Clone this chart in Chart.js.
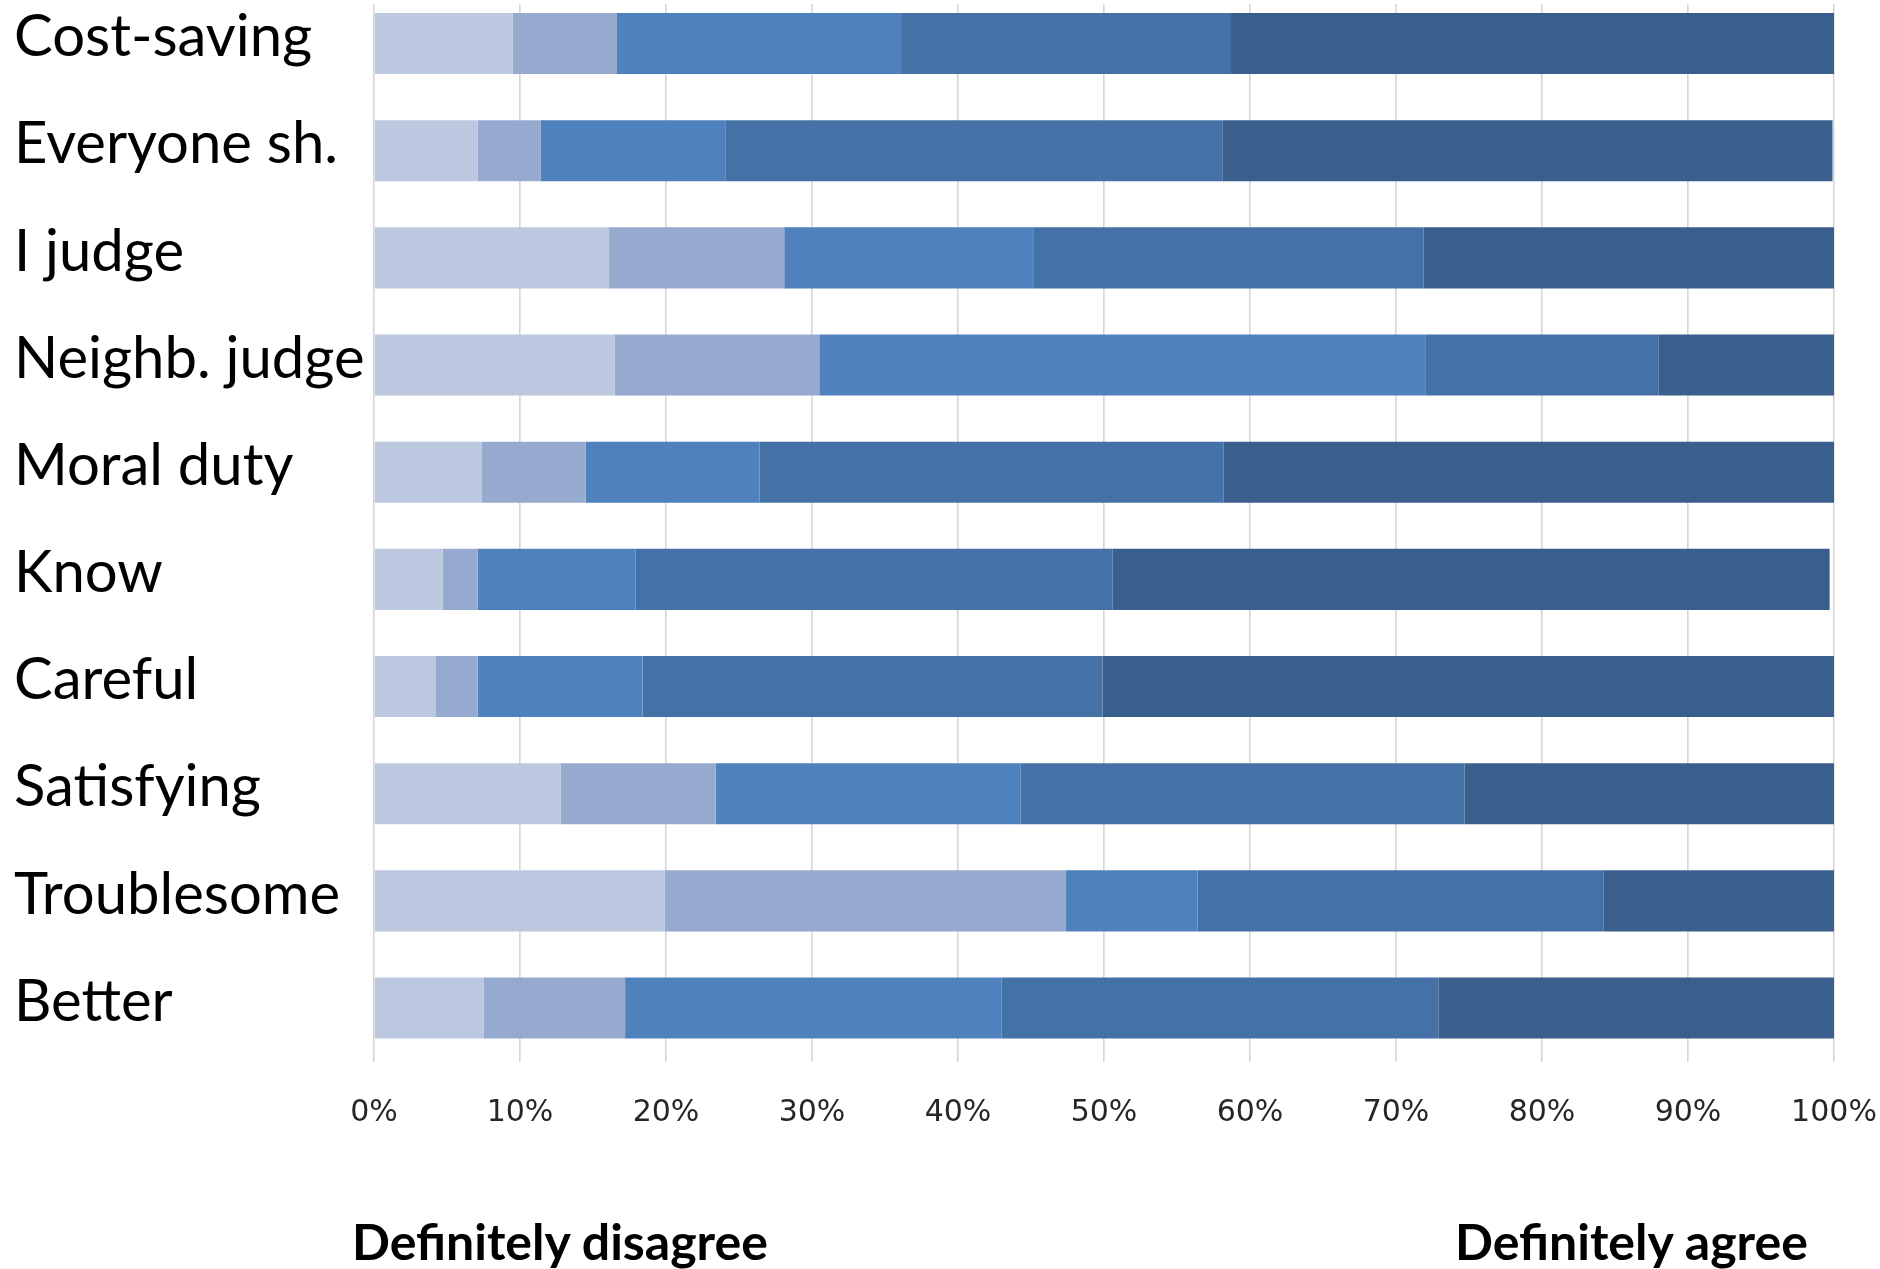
<!DOCTYPE html>
<html>
<head>
<meta charset="utf-8">
<script src="https://cdn.jsdelivr.net/npm/chart.js@4/dist/chart.umd.min.js"></script>
<style>
  body { margin: 0; background: #fff; }
  #page { position: relative; width: 1880px; height: 1269px; overflow: hidden; background: #fff; }
  #clip { position: absolute; left: 0; top: 4px; width: 1880px; height: 1265px; overflow: hidden; }
  #chart { position: absolute; left: 0; top: -14px; }
  .end-label { position: absolute; font-family: Lato, sans-serif; font-weight: bold; font-size: 50px; line-height: 60px; color: #000; white-space: nowrap; }
</style>
</head>
<body>
<div id="page">
  <div id="clip"><canvas id="chart" width="1880" height="1279"></canvas></div>
  <div class="end-label" style="left:352px; top:1211px;">Definitely disagree</div>
  <div class="end-label" style="left:1455px; top:1211px;">Definitely agree</div>
</div>
<script>
// categories, top to bottom
const items = ['Cost-saving', 'Everyone sh.', 'I judge', 'Neighb. judge', 'Moral duty', 'Know', 'Careful', 'Satisfying', 'Troublesome', 'Better'];

// share of answers (%) per level, from "definitely disagree" to "definitely agree"
const level1 = [9.5, 7.1, 16.1, 16.5, 7.4, 4.7, 4.2, 12.8, 19.9, 7.5];
const level2 = [7.1, 4.3, 12.0, 14.0, 7.1, 2.4, 2.9, 10.6, 27.5, 9.7];
const level3 = [19.5, 12.7, 17.1, 41.5, 11.9, 10.8, 11.3, 20.9, 9.0, 25.8];
const level4 = [22.6, 34.0, 26.7, 16.0, 31.8, 32.7, 31.5, 30.4, 27.8, 29.9];
const level5 = [41.3, 41.8, 28.1, 12.0, 41.8, 49.1, 50.1, 25.3, 15.8, 27.1];

const levelNames = ['Definitely disagree', 'Disagree', 'Neutral', 'Agree', 'Definitely agree'];
const xTicks = [0, 10, 20, 30, 40, 50, 60, 70, 80, 90, 100];

const colors = ['#bcc8e0', '#96aad0', '#4f81bd', '#4572a6', '#3a5f8c'];
const series = [level1, level2, level3, level4, level5];

const ctx = document.getElementById('chart').getContext('2d');
const chart = new Chart(ctx, {
    type: 'bar',
    data: {
        labels: items,
        datasets: series.map((vals, i) => ({
            label: levelNames[i],
            data: vals,
            backgroundColor: colors[i],
            borderWidth: 0,
            categoryPercentage: 1,
            barPercentage: 0.57
        }))
    },
    options: {
        indexAxis: 'y',
        responsive: false,
        animation: false,
        devicePixelRatio: 1,
        layout: { padding: { left: 14, right: 46, top: 0, bottom: 0 } },
        plugins: {
            legend: { display: false },
            tooltip: { enabled: false }
        },
        scales: {
            x: {
                stacked: true,
                min: 0,
                max: 100,
                afterBuildTicks: (scale) => { scale.ticks = xTicks.map(v => ({ value: v })); },
                afterFit: (scale) => {
                    scale.height = 207.4;
                    scale.paddingLeft = 0;
                    scale.paddingRight = 0;
                },
                grid: { color: '#d6d6d6', lineWidth: 1.6, drawTicks: false },
                border: { display: false },
                ticks: {
                    padding: 34,
                    color: '#262626',
                    font: { family: 'DejaVu Sans', size: 30 },
                    callback: (v) => v + '%'
                }
            },
            y: {
                stacked: true,
                afterFit: (scale) => {
                    scale.width = 360;
                    scale.paddingTop = 0;
                    scale.paddingBottom = 0;
                },
                grid: { display: false },
                border: { display: false },
                ticks: {
                    crossAlign: 'far',
                    labelOffset: -6,
                    color: '#000',
                    font: { family: 'Lato', size: 58 }
                }
            }
        }
    }
});
</script>
</body>
</html>
